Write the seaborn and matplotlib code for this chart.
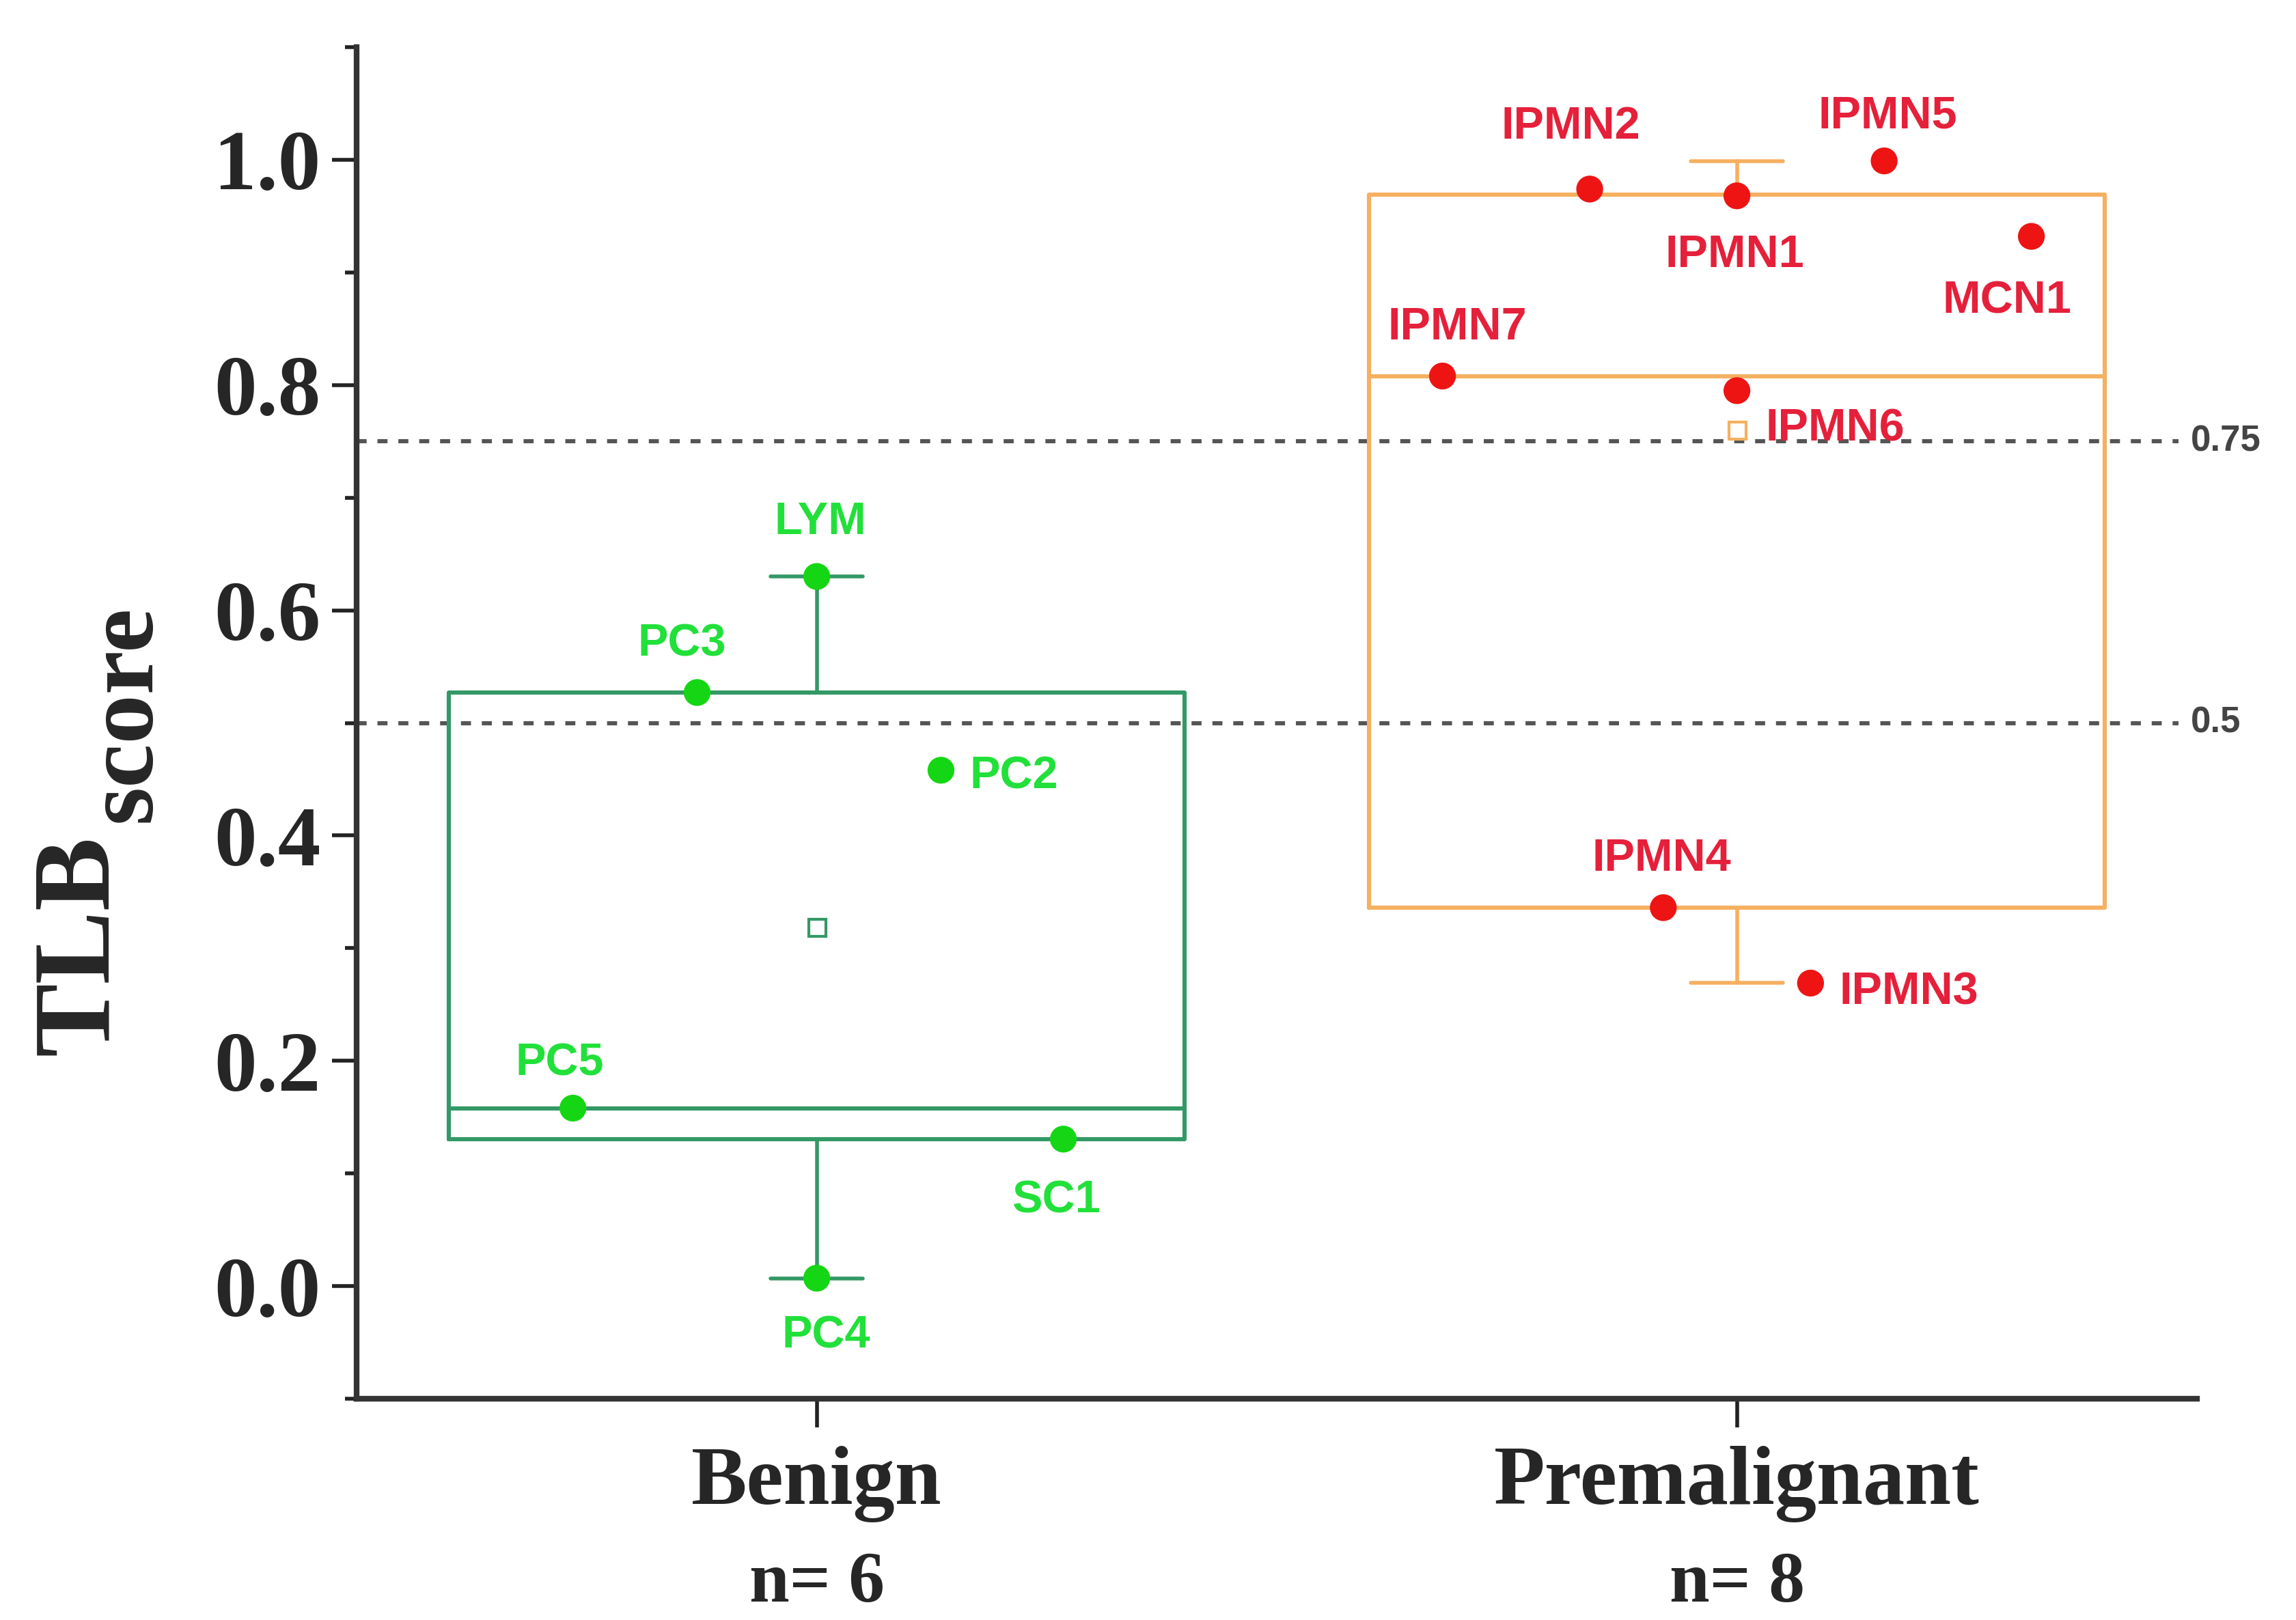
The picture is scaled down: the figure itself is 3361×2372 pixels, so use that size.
import numpy as np
import pandas as pd
import matplotlib
matplotlib.use("Agg")
import matplotlib.pyplot as plt
import seaborn as sns
from matplotlib.ticker import MultipleLocator

# ---- data ----
groups = ["Benign", "Premalignant"]
group_n = ["n= 6", "n= 8"]

benign_labels = ["LYM", "PC3", "PC2", "PC5", "SC1", "PC4"]
benign_scores = [0.630, 0.527, 0.458, 0.158, 0.1305, 0.007]
benign_jitter = [0.0, -0.13, 0.135, -0.265, 0.268, 0.0]

premal_labels = ["IPMN2", "IPMN1", "IPMN5", "MCN1", "IPMN7", "IPMN6", "IPMN4", "IPMN3"]
premal_scores = [0.974, 0.968, 0.999, 0.932, 0.808, 0.795, 0.336, 0.269]
premal_jitter = [-0.16, 0.0, 0.16, 0.32, -0.32, 0.0, -0.08, 0.08]

# box edges as drawn in the original (Origin) chart
box_q1 = [0.1305, 0.336]
box_med = [0.158, 0.808]
box_q3 = [0.527, 0.969]

cutoffs = [0.75, 0.5]
cutoff_labels = ["0.75", "0.5"]

# ---- styling ----
box_colors = ["#339966", "#f5b060"]
dot_colors = {"Benign": "#14d614", "Premalignant": "#ee1414"}
text_colors = {"Benign": "#22e03a", "Premalignant": "#e5203a"}

# label placement (points, relative to the dot): dx, dy of text centre, alignment
label_offsets = {
    "LYM": (2, 31, "center"), "PC3": (-8, 28, "center"), "PC2": (15, -1, "left"),
    "PC5": (-7, 26, "center"), "SC1": (-4, -30, "center"), "PC4": (5, -28, "center"),
    "IPMN2": (-10, 35, "center"), "IPMN1": (-1, -29, "center"), "IPMN5": (2, 26, "center"),
    "MCN1": (-13, -32, "center"), "IPMN7": (8, 28, "center"), "IPMN6": (15, -18, "left"),
    "IPMN4": (-1, 28, "center"), "IPMN3": (15, -2.5, "left"),
}

sns.set_theme(style="ticks")
plt.rcParams["font.family"] = ["Liberation Serif", "DejaVu Serif"]

df = pd.DataFrame({
    "group": ["Benign"] * len(benign_labels) + ["Premalignant"] * len(premal_labels),
    "label": benign_labels + premal_labels,
    "score": benign_scores + premal_scores,
    "jitter": benign_jitter + premal_jitter,
})
df["x"] = df["group"].map({g: i for i, g in enumerate(groups)}) + df["jitter"]

fig = plt.figure(figsize=(16.81, 11.86), dpi=200, facecolor="white")
ax = fig.add_axes([0.1553, 0.1366, 0.8013, 0.8343])

# cut-off lines
ax.hlines(cutoffs, -0.5, 1.48, colors="#555555", linestyles=(0, (2.4, 2.6)),
          linewidth=2.2, zorder=1)
for y, lab in zip(cutoffs, cutoff_labels):
    ax.text(1.493, y, lab, ha="left", va="center", fontsize=19, fontweight="bold",
            color="#444444", family=["Liberation Sans", "DejaVu Sans"])

# boxes
for i, g in enumerate(groups):
    sc = df.loc[df["group"] == g, "score"].values
    st = [dict(q1=box_q1[i], med=box_med[i], q3=box_q3[i], whislo=sc.min(),
               whishi=sc.max(), mean=sc.mean(), fliers=[], label=g)]
    c = box_colors[i]
    ax.bxp(st, positions=[i], widths=0.8, capwidths=0.1, showmeans=True,
           showfliers=False, manage_ticks=False,
           boxprops=dict(color=c, linewidth=2.2),
           whiskerprops=dict(color=c, linewidth=2),
           capprops=dict(color=c, linewidth=2),
           medianprops=dict(color=c, linewidth=2.2),
           meanprops=dict(marker="s", markerfacecolor="white", markeredgecolor=c,
                          markersize=9, markeredgewidth=1.5))

# points
sns.scatterplot(data=df, x="x", y="score", hue="group", palette=dot_colors, s=200,
                linewidth=0, legend=False, ax=ax, zorder=4)

for _, r in df.iterrows():
    dx, dy, ha = label_offsets[r["label"]]
    ax.annotate(r["label"], xy=(r["x"], r["score"]), xytext=(dx, dy - 8.6),
                textcoords="offset points", ha=ha, va="baseline", fontsize=24,
                fontweight="bold", color=text_colors[r["group"]],
                family=["Liberation Sans", "DejaVu Sans"])

# axes
ax.set_xlim(-0.5, 1.5)
ax.set_ylim(-0.1, 1.1)
ax.set_xlabel("")
ax.set_ylabel("")
ax.set_xticks([0, 1])
ax.set_xticklabels(groups, fontsize=44, fontweight="bold")
ax.yaxis.set_major_locator(MultipleLocator(0.2))
ax.yaxis.set_minor_locator(MultipleLocator(0.1))
ax.set_yticklabels([f"{v:.1f}" for v in ax.get_yticks()], fontsize=45, fontweight="bold")
ax.set_ylim(-0.1, 1.1)
ax.tick_params(axis="y", which="major", length=13, width=2, pad=6, color="#222222")
ax.tick_params(axis="y", which="minor", length=6, width=2, color="#222222", left=True)
ax.tick_params(axis="x", which="major", length=15, width=2, pad=10, color="#222222")
for side in ["top", "right"]:
    ax.spines[side].set_visible(False)
for side in ["left", "bottom"]:
    ax.spines[side].set_linewidth(3)
    ax.spines[side].set_color("#333333")

for i, n in enumerate(group_n):
    ax.text(i, -0.150, n, transform=ax.get_xaxis_transform(), ha="center",
            va="baseline", fontsize=38, fontweight="bold")

# y label: TLB with large subscript "score"
ax.text(-0.1355, 0.3355, "TLB", transform=ax.transAxes, rotation=90,
        rotation_mode="anchor", ha="center", va="baseline", fontsize=58,
        fontweight="bold")
ax.text(-0.1121, 0.5068, "score", transform=ax.transAxes, rotation=90,
        rotation_mode="anchor", ha="center", va="baseline", fontsize=52,
        fontweight="bold")

fig.savefig("out.png", dpi=200, facecolor="white")
